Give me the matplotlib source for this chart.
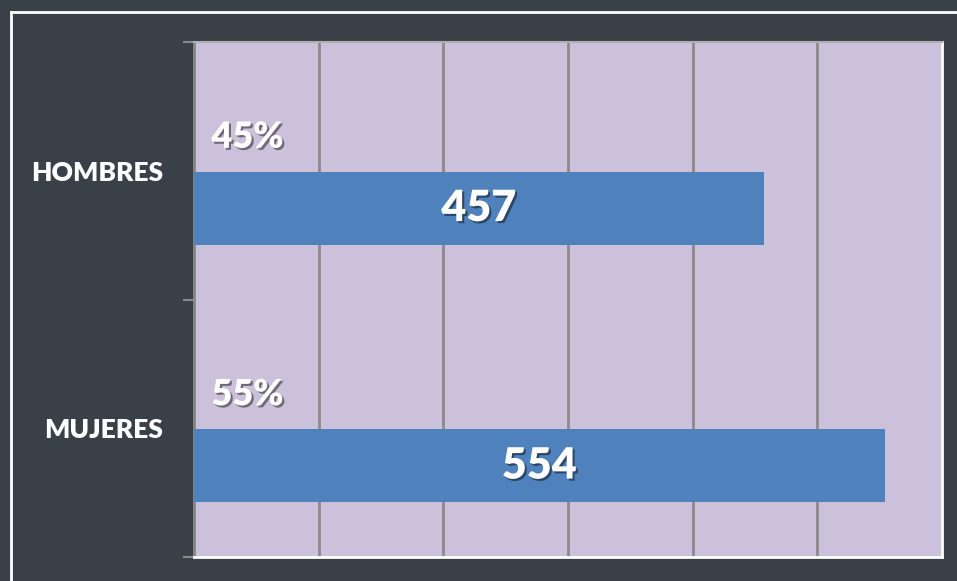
import matplotlib.pyplot as plt
import matplotlib.patheffects as pe

# --- datos ---
categorias = ['HOMBRES', 'MUJERES']
cantidades = [457, 554]
porcentajes = ['45%', '55%']

fondo = '#3a4048'
lila = '#ccc1da'
azul = '#4f81bd'

plt.rcParams['font.family'] = ['Lato', 'DejaVu Sans']

fig = plt.figure(figsize=(9.57, 5.81), dpi=100, facecolor=fondo)
ax = fig.add_axes([194/957, 1 - 557/581, 748/957, 515/581])
ax.set_facecolor(lila)

# marco blanco exterior (solo arriba e izquierda visibles)
fig.add_artist(plt.Line2D([11/957, 1], [1 - 12/581, 1 - 12/581], color='white', lw=2))
fig.add_artist(plt.Line2D([11/957, 11/957], [0, 1 - 12/581], color='white', lw=2))

sombra = [pe.withSimplePatchShadow(offset=(1.5, -1.5), shadow_rgbFace='black', alpha=0.45)]

pos = [i + 0.645 for i in range(len(categorias))]
ax.barh(pos, cantidades, height=0.283, color=azul, zorder=3)

for i, (c, p) in enumerate(zip(cantidades, porcentajes)):
    ax.text(c / 2, pos[i], str(c), ha='center', va='center', color='white',
            fontsize=31, fontweight='heavy', path_effects=sombra, zorder=4)
    ax.text(14, i + 0.37, p, ha='left', va='center', color='white',
            fontsize=26, fontweight='heavy', path_effects=sombra, zorder=4)

ax.set_xlim(0, 600)
ax.set_ylim(len(categorias), 0)
ax.set_xticks(range(0, 601, 100))
ax.set_xticklabels([])
ax.tick_params(axis='x', length=0)
ax.grid(axis='x', color='#8a8a8a', lw=2, zorder=1)

ax.set_yticks(range(len(categorias) + 1))
ax.set_yticklabels([])
ax.tick_params(axis='y', which='major', length=8, width=1.5, color='#8a8a8a')
ax.set_yticks([i + 0.5 for i in range(len(categorias))], minor=True)
ax.set_yticklabels(categorias, minor=True, color='white', fontsize=19, fontweight='heavy')
ax.tick_params(axis='y', which='minor', length=0, pad=22)

ax.spines['left'].set_color('#8a8a8a')
ax.spines['left'].set_linewidth(2)
ax.spines['top'].set_color('#b0b0b0')
ax.spines['top'].set_linewidth(1.5)
ax.spines['right'].set_color('white')
ax.spines['right'].set_linewidth(2)
ax.spines['bottom'].set_color('white')
ax.spines['bottom'].set_linewidth(2)

fig.savefig('out.png', dpi=100, facecolor=fondo)
